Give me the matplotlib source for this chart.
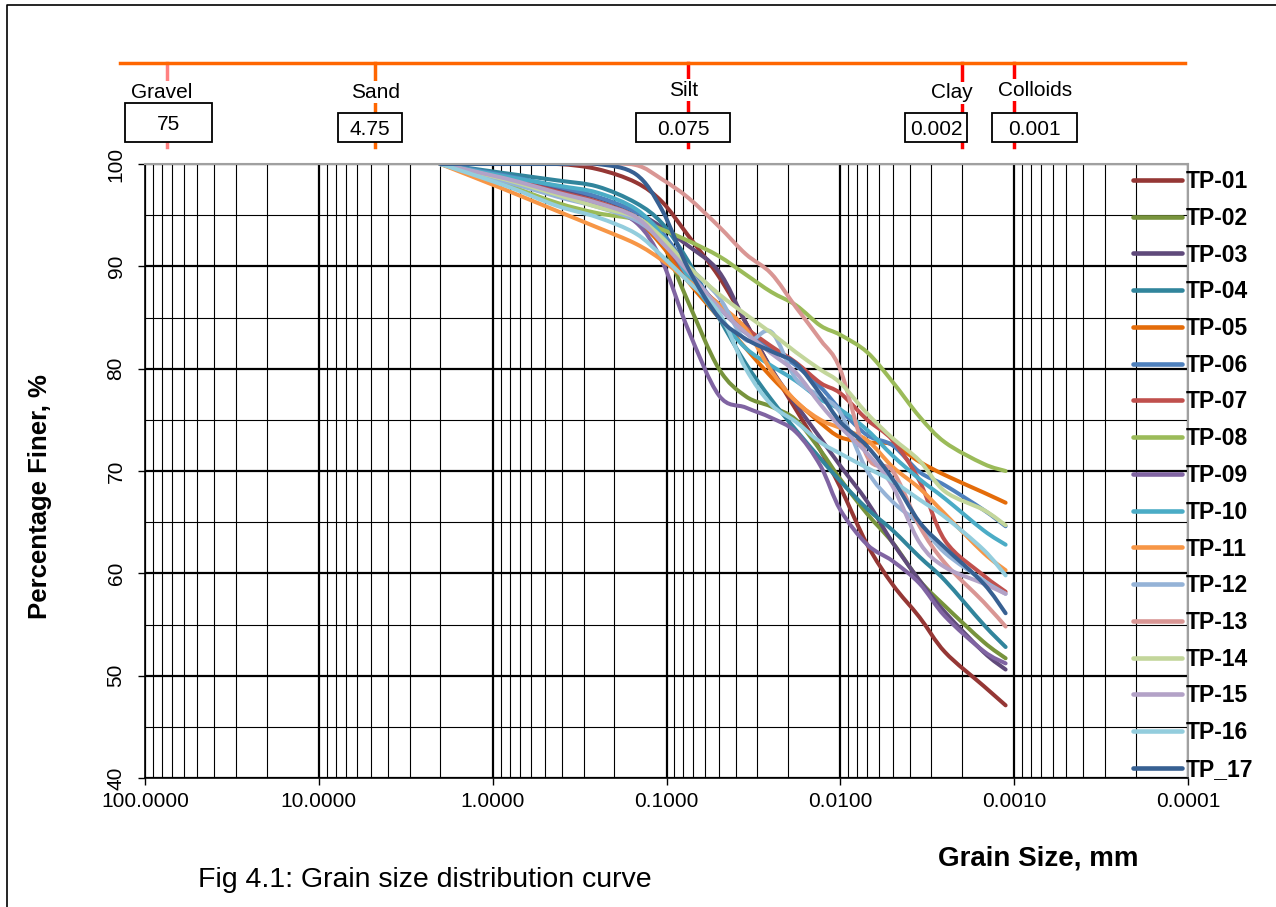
import numpy as np
import matplotlib
matplotlib.use('Agg')
import matplotlib.pyplot as plt
import matplotlib.transforms as mtransforms
from matplotlib.path import Path
from matplotlib.patches import PathPatch, Rectangle
from matplotlib.lines import Line2D
from matplotlib.ticker import FixedLocator, FuncFormatter, LogLocator, NullFormatter

plt.rcParams['font.family'] = ['Liberation Sans', 'DejaVu Sans']

# grain sizes (mm) and percent finer for each test pit
grain_size = [2.0, 0.85, 0.425, 0.25, 0.15, 0.106, 0.075, 0.05, 0.035, 0.025,
              0.018, 0.013, 0.01, 0.007, 0.005, 0.0035, 0.0025, 0.0015, 0.00112]

tp01 = [100, 100, 100, 99.5, 98.2, 96.3, 93.0, 89.0, 84.5, 80.0, 76.0, 72.0, 68.4, 62.8, 58.9, 55.7, 52.3, 49.0, 47.1]
tp02 = [100, 98.6, 97.3, 96.3, 94.8, 92.3, 86.5, 80.0, 77.3, 76.3, 75.0, 72.0, 69.2, 65.8, 63.0, 59.3, 56.8, 53.3, 51.7]
tp03 = [100, 98.8, 97.6, 96.7, 95.3, 93.8, 92.0, 89.5, 84.5, 80.0, 76.5, 73.2, 70.5, 67.0, 63.0, 59.3, 56.2, 52.3, 50.6]
tp04 = [100, 99.1, 98.4, 97.8, 96.2, 94.2, 90.5, 85.0, 80.5, 77.0, 74.0, 71.2, 69.0, 66.3, 64.2, 61.6, 59.3, 55.0, 52.8]
tp05 = [100, 98.3, 97.0, 96.0, 94.5, 92.0, 88.5, 85.0, 82.0, 79.2, 76.8, 74.7, 73.3, 72.8, 72.6, 70.9, 69.6, 67.9, 66.9]
tp06 = [100, 98.9, 97.8, 96.8, 95.3, 93.3, 89.8, 86.0, 83.5, 82.0, 80.3, 78.2, 76.0, 73.5, 72.5, 69.9, 68.6, 66.2, 64.6]
tp07 = [100, 98.6, 97.3, 96.3, 94.8, 92.5, 89.0, 86.3, 84.0, 82.2, 80.6, 78.6, 77.6, 75.0, 73.0, 69.0, 63.2, 59.8, 58.2]
tp08 = [100, 98.0, 96.2, 95.2, 94.6, 93.6, 92.5, 91.0, 89.2, 87.5, 86.2, 84.2, 83.3, 81.6, 78.7, 75.3, 72.8, 70.7, 70.0]
tp09 = [100, 98.5, 97.0, 96.0, 94.3, 90.5, 83.8, 77.4, 76.2, 75.2, 73.8, 70.5, 66.2, 62.8, 61.2, 59.0, 55.8, 52.4, 51.2]
tp10 = [100, 98.8, 97.9, 97.2, 95.6, 93.0, 89.0, 85.0, 82.0, 80.3, 78.8, 77.0, 76.0, 74.0, 71.5, 69.2, 67.3, 64.2, 62.8]
tp11 = [100, 97.5, 95.4, 93.8, 92.2, 90.6, 88.6, 86.3, 83.9, 79.8, 76.8, 75.0, 74.2, 73.0, 70.4, 68.3, 65.8, 62.0, 60.3]
tp12 = [100, 98.3, 96.8, 95.8, 94.5, 92.5, 90.0, 87.0, 82.8, 83.6, 79.0, 77.3, 75.7, 70.0, 67.0, 64.8, 62.0, 59.3, 58.0]
tp13 = [100, 100, 100, 100, 99.9, 98.5, 96.7, 93.9, 91.2, 89.3, 86.0, 82.8, 79.9, 71.4, 70.0, 64.6, 61.0, 57.2, 54.8]
tp14 = [100, 98.5, 97.0, 95.8, 94.8, 92.8, 90.0, 87.3, 85.3, 83.5, 81.6, 79.9, 78.6, 75.6, 73.2, 71.0, 68.0, 66.2, 64.7]
tp15 = [100, 98.6, 97.2, 96.2, 94.8, 92.3, 89.5, 86.0, 83.5, 81.5, 79.6, 76.5, 74.3, 71.7, 68.5, 63.0, 60.6, 59.0, 58.0]
tp16 = [100, 97.9, 95.9, 94.8, 93.2, 91.0, 88.5, 85.5, 80.0, 76.5, 74.8, 72.8, 71.7, 70.3, 69.0, 67.2, 65.5, 62.3, 59.8]
tp17 = [100, 100, 100, 100, 99.0, 95.5, 89.8, 85.0, 82.9, 81.7, 80.5, 77.5, 74.8, 72.4, 69.2, 65.0, 62.5, 59.0, 56.1]

sample_names = ['TP-01', 'TP-02', 'TP-03', 'TP-04', 'TP-05', 'TP-06', 'TP-07', 'TP-08', 'TP-09',
                'TP-10', 'TP-11', 'TP-12', 'TP-13', 'TP-14', 'TP-15', 'TP-16', 'TP_17']
sample_values = [tp01, tp02, tp03, tp04, tp05, tp06, tp07, tp08, tp09,
                 tp10, tp11, tp12, tp13, tp14, tp15, tp16, tp17]
sample_colors = ['#953735', '#77933C', '#604A7B', '#31859C', '#E46C0A', '#4F81BD', '#C0504D',
                 '#9BBB59', '#8064A2', '#4BACC6', '#F79646', '#95B3D7', '#D99694', '#C3D69B',
                 '#B3A2C7', '#93CDDD', '#376092']

# soil classification limits shown above the chart
class_names = ['Gravel', 'Sand', 'Silt', 'Clay', 'Colloids']
class_limits = [75, 4.75, 0.075, 0.002, 0.001]
class_labels = ['75', '4.75', '0.075', '0.002', '0.001']
class_colors = ['#FF8080', '#FF6600', '#FF0000', '#FF0000', '#FF0000']

x_ticks = [100, 10, 1, 0.1, 0.01, 0.001, 0.0001]
y_ticks = [40, 50, 60, 70, 80, 90, 100]

W, H = 1276, 907


def fx(x):
    return x / W


def fy(y):
    return 1 - y / H


def smooth_path(xs, ys):
    # bezier through the points, control points worked out in log-x space
    p = np.column_stack([np.log10(xs), ys])
    pp = np.vstack([p[0], p, p[-1]])
    verts = [p[0]]
    codes = [Path.MOVETO]
    for i in range(len(p) - 1):
        c1 = pp[i + 1] + (pp[i + 2] - pp[i]) / 6
        c2 = pp[i + 2] - (pp[i + 3] - pp[i + 1]) / 6
        verts += [c1, c2, pp[i + 2]]
        codes += [Path.CURVE4] * 3
    verts = np.array(verts)
    verts[:, 0] = 10 ** verts[:, 0]
    return Path(verts, codes)


fig = plt.figure(figsize=(W / 100, H / 100), dpi=100)
ax = fig.add_axes([fx(145), 1 - 778 / H, 1043 / W, 614 / H])

ax.set_xscale('log')
ax.set_xlim(100, 0.0001)
ax.set_ylim(40, 100)

ax.xaxis.set_major_locator(FixedLocator(x_ticks))
ax.xaxis.set_major_formatter(FuncFormatter(lambda v, pos: '%.4f' % v))
ax.xaxis.set_minor_locator(LogLocator(base=10, subs=np.arange(2, 10), numticks=100))
ax.xaxis.set_minor_formatter(NullFormatter())
ax.yaxis.set_major_locator(FixedLocator(y_ticks))
ax.yaxis.set_minor_locator(FixedLocator([45, 55, 65, 75, 85, 95]))

ax.set_axisbelow(True)
ax.grid(which='major', color='black', lw=1.6)
ax.grid(which='minor', color='black', lw=0.8)
ax.tick_params(which='minor', length=0)
ax.tick_params(which='major', direction='out', length=5, width=1, labelsize=15)
ax.tick_params(axis='x', pad=5)
ax.tick_params(axis='y', labelrotation=90, pad=9)
for lbl in ax.get_yticklabels():
    lbl.set_va('center')

for side in ['top', 'right']:
    ax.spines[side].set_color('#A0A0A0')
    ax.spines[side].set_linewidth(1.5)
for side in ['left', 'bottom']:
    ax.spines[side].set_linewidth(1.2)

for vals, color in zip(sample_values, sample_colors):
    patch = PathPatch(smooth_path(grain_size, vals), fill=False, edgecolor=color,
                      lw=2.9, capstyle='round', joinstyle='round')
    ax.add_patch(patch)

handles = [Line2D([], [], color=c, lw=3.3, solid_capstyle='round') for c in sample_colors]
fig.legend(handles, sample_names, loc='upper left', bbox_to_anchor=(fx(1133), fy(170)),
           frameon=False, prop={'weight': 'bold', 'size': 16.5}, handlelength=2.15,
           handletextpad=0.15, labelspacing=0.6, borderpad=0, borderaxespad=0)

fig.text(fx(40), fy(497), 'Percentage Finer, %', rotation=90, ha='center', va='center',
         fontsize=18.5, fontweight='bold')
fig.text(fx(1038), fy(858), 'Grain Size, mm', ha='center', va='center',
         fontsize=20, fontweight='bold')
fig.text(fx(425), fy(880), 'Fig 4.1: Grain size distribution curve', ha='center', va='center',
         fontsize=20.5)

# classification bar along the top
fig.add_artist(Line2D([fx(120), fx(1185)], [fy(63), fy(63)], color='#FF6600', lw=2.5))
trans = mtransforms.blended_transform_factory(ax.transData, fig.transFigure)
for d, c in zip(class_limits, class_colors):
    fig.add_artist(Line2D([d, d], [fy(63), fy(147)], transform=trans, color=c, lw=2.5,
                          clip_on=False, zorder=1))

name_pos = [(162, 92), (376, 92), (684, 90), (952, 93), (1035, 90)]
box_pos = [(125, 103, 212, 142), (338, 113, 402, 142), (636, 113, 730, 142),
           (905, 113, 967, 142), (992, 113, 1077, 142)]
for name, label, (nx, ny), (x0, y0, x1, y1) in zip(class_names, class_labels, name_pos, box_pos):
    fig.text(fx(nx), fy(ny), name, ha='center', va='center', fontsize=15, zorder=3,
             bbox=dict(facecolor='white', edgecolor='none', pad=1))
    fig.add_artist(Rectangle((fx(x0), fy(y1)), fx(x1) - fx(x0), fy(y0) - fy(y1),
                             transform=fig.transFigure, facecolor='white',
                             edgecolor='black', lw=1.3, zorder=4))
    fig.text(fx((x0 + x1) / 2), fy((y0 + y1) / 2 + 2), label, ha='center', va='center',
             fontsize=15, zorder=5)

# page frame
fig.add_artist(Line2D([fx(7), fx(7), fx(1276)], [0, fy(5), fy(5)], color='black', lw=1.2))

fig.savefig('out.png', dpi=100)
